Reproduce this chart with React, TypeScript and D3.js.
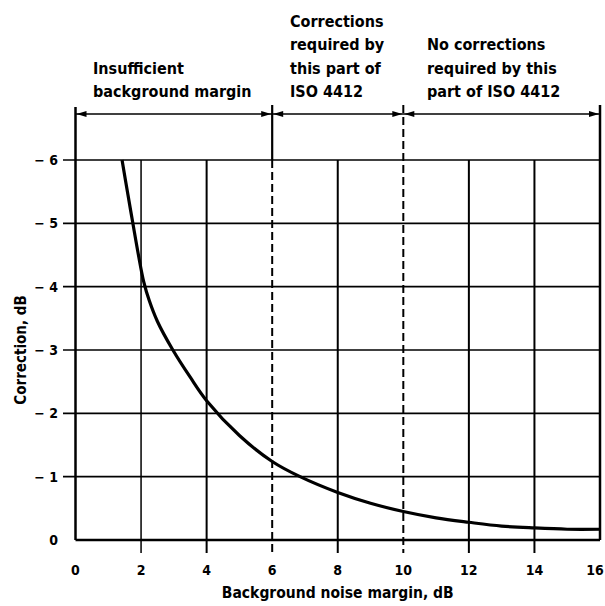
// App.tsx — ISO 4412 background-noise correction chart, drawn with D3 scales.
import * as d3 from "d3";

const xTicks = [0, 2, 4, 6, 8, 10, 12, 14, 16];
const xTickLabels = ["0", "2", "4", "6", "8", "10", "12", "14", "16"];
const yTicks = [0, -1, -2, -3, -4, -5, -6];
const yTickLabels = ["0", "− 1", "− 2", "− 3", "− 4", "− 5", "− 6"];

// curve: background noise margin (dB) -> correction (dB)
const marginDb = [1.42, 1.6, 1.75, 1.92, 2.08, 2.25, 2.5, 2.97, 3.5, 4, 5, 6, 6.85, 8, 9, 10, 11, 12, 13, 14, 15, 16];
const correctionDb = [-6, -5.45, -5, -4.5, -4.08, -3.78, -3.45, -3, -2.57, -2.2, -1.65, -1.24, -1, -0.75, -0.58, -0.45, -0.35, -0.28, -0.22, -0.19, -0.17, -0.17];

// zone boundaries and captions
const zoneEdges = [0, 6, 10, 16];
const zoneCaptions = [
  ["Insufficient", "background margin"],
  ["Corrections", "required by", "this part of", "ISO 4412"],
  ["No corrections", "required by this", "part of ISO 4412"],
];

const W = 605;
const H = 606;
const font = "'DejaVu Sans Condensed', 'DejaVu Sans', sans-serif";

export default function App() {
  const x = d3.scaleLinear().domain([0, 16]).range([75.5, 600]);
  const y = d3.scaleLinear().domain([0, -6]).range([540, 160]);
  const top = 105;
  const arrowY = 114;
  const tickBottom = 553;

  const line = d3
    .line<number>()
    .x((_, i) => x(marginDb[i]))
    .y((d) => y(d))
    .curve(d3.curveCatmullRom.alpha(0.5));

  const arrow = (px: number, dir: number, key: string) => (
    <path key={key} d={`M${px},${arrowY} l${-dir * 10},-3 l0,6 Z`} fill="#000" />
  );

  return (
    <svg width={W} height={H} style={{ position: "absolute", left: 0, top: 0, background: "#fff" }}>
      {/* horizontal grid */}
      {yTicks.filter((v) => v !== 0).map((v) => (
        <line key={"h" + v} x1={63} x2={x(16)} y1={y(v)} y2={y(v)} stroke="#000" strokeWidth={1.6} />
      ))}
      {/* vertical grid */}
      {xTicks.filter((v) => v !== 0 && v !== 6 && v !== 10 && v !== 16).map((v) => (
        <line key={"v" + v} x1={x(v)} x2={x(v)} y1={y(-6)} y2={tickBottom} stroke="#000" strokeWidth={v === 2 ? 1.5 : 2} />
      ))}
      {/* zone dividers */}
      <line x1={x(6)} x2={x(6)} y1={top} y2={y(-6)} stroke="#000" strokeWidth={2.2} />
      <line x1={x(6)} x2={x(6)} y1={y(-6)} y2={tickBottom} stroke="#000" strokeWidth={2} strokeDasharray="8,4" />
      <line x1={x(10)} x2={x(10)} y1={top} y2={tickBottom} stroke="#000" strokeWidth={2} strokeDasharray="8,4" />
      {/* frame */}
      <line x1={x(0)} x2={x(0)} y1={top + 2} y2={y(0)} stroke="#000" strokeWidth={2.5} />
      <line x1={x(16)} x2={x(16)} y1={top} y2={y(0)} stroke="#000" strokeWidth={2.5} />
      <line x1={x(0)} x2={x(16)} y1={y(0)} y2={y(0)} stroke="#000" strokeWidth={2.5} />
      {/* zone arrows */}
      <line x1={x(0)} x2={x(16)} y1={arrowY} y2={arrowY} stroke="#000" strokeWidth={1.5} />
      {zoneEdges.slice(0, -1).map((e, i) => [
        arrow(x(e) + 1, -1, "l" + i),
        arrow(x(zoneEdges[i + 1]) - 1, 1, "r" + i),
      ])}
      {/* curve */}
      <path d={line(correctionDb) ?? ""} fill="none" stroke="#000" strokeWidth={3.2} strokeLinejoin="round" />
      {/* tick labels */}
      {xTicks.map((v, i) => (
        <text
          key={"xt" + v}
          x={v === 16 ? x(v) - 5 : x(v)}
          y={575}
          textAnchor="middle"
          fontFamily={font}
          fontWeight="bold"
          fontSize={14}
        >
          {xTickLabels[i]}
        </text>
      ))}
      {yTicks.map((v, i) => (
        <text key={"yt" + v} x={58} y={y(v) + 5} textAnchor="end" fontFamily={font} fontWeight="bold" fontSize={14}>
          {yTickLabels[i]}
        </text>
      ))}
      {/* axis titles */}
      <text x={(x(0) + x(16)) / 2} y={598} textAnchor="middle" fontFamily={font} fontWeight="bold" fontSize={15.5}>
        Background noise margin, dB
      </text>
      <text
        transform={`translate(26,${(y(0) + y(-6)) / 2}) rotate(-90)`}
        textAnchor="middle"
        fontFamily={font}
        fontWeight="bold"
        fontSize={15}
      >
        Correction, dB
      </text>
      {/* zone captions */}
      {zoneCaptions.map((lines, i) => {
        const tx = [93, 290, 427][i];
        const firstBaseline = 97 - (lines.length - 1) * 23.3;
        return lines.map((s, j) => (
          <text key={"c" + i + j} x={tx} y={firstBaseline + j * 23.3} fontFamily={font} fontWeight="bold" fontSize={16}>
            {s}
          </text>
        ));
      })}
    </svg>
  );
}
